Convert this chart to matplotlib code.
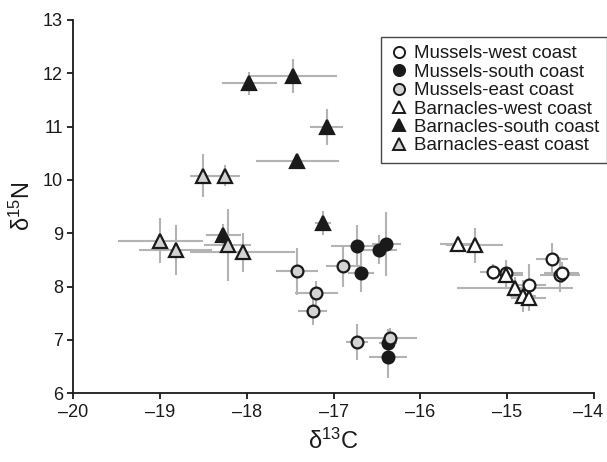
import matplotlib.pyplot as plt
from matplotlib.lines import Line2D
from matplotlib.transforms import ScaledTranslation

plt.rcParams['font.family'] = ['Liberation Sans', 'DejaVu Sans']
plt.rcParams['mathtext.default'] = 'regular'

# Mussels-west coast (open circles)
mw_x = [-15.16, -15.01, -14.75, -14.48, -14.39, -14.37]
mw_y = [8.27, 8.26, 8.02, 8.52, 8.22, 8.26]
mw_xerr = [0.15, 0.2, 0.2, 0.18, 0.23, 0.2]
mw_yerr = [0.15, 0.15, 0.4, 0.3, 0.33, 0.2]

# Mussels-south coast (black circles)
ms_x = [-16.73, -16.68, -16.47, -16.39, -16.37, -16.37]
ms_y = [8.76, 8.26, 8.69, 8.79, 6.95, 6.67]
ms_xerr = [0.3, 0.15, 0.2, 0.17, 0.1, 0.22]
ms_yerr = [0.4, 0.37, 0.27, 0.6, 0.25, 0.38]

# Mussels-east coast (grey circles)
me_x = [-17.42, -17.20, -17.24, -16.89, -16.73, -16.35]
me_y = [8.29, 7.88, 7.54, 8.38, 6.96, 7.03]
me_xerr = [0.24, 0.25, 0.17, 0.2, 0.13, 0.31]
me_yerr = [0.44, 0.22, 0.27, 0.38, 0.33, 0.2]

# Barnacles-west coast (open triangles)
bw_x = [-15.57, -15.37, -15.01, -14.91, -14.82, -14.75]
bw_y = [8.79, 8.77, 8.22, 7.98, 7.83, 7.79]
bw_xerr = [0.2, 0.33, 0.2, 0.67, 0.15, 0.2]
bw_yerr = [0.15, 0.32, 0.27, 0.2, 0.3, 0.25]

# Barnacles-south coast (black triangles)
bs_x = [-17.97, -17.47, -17.08, -17.42, -17.12, -18.27]
bs_y = [11.81, 11.95, 10.99, 10.36, 9.19, 8.97]
bs_xerr = [0.32, 0.51, 0.19, 0.48, 0.09, 0.2]
bs_yerr = [0.22, 0.32, 0.33, 0.1, 0.23, 0.2]

# Barnacles-east coast (grey triangles)
be_x = [-19.0, -18.82, -18.50, -18.25, -18.22, -18.05]
be_y = [8.86, 8.68, 10.08, 10.08, 8.78, 8.64]
be_xerr = [0.49, 0.42, 0.15, 0.17, 0.27, 0.6]
be_yerr = [0.42, 0.47, 0.4, 0.2, 0.67, 0.37]

x_ticks = [-20, -19, -18, -17, -16, -15, -14]
y_ticks = [6, 7, 8, 9, 10, 11, 12, 13]

grey = '#d3d3d3'
err_col = '#b3b3b3'
ink = '#1a1a1a'

series = [
    ('Mussels-west coast', mw_x, mw_y, mw_xerr, mw_yerr, 'o', 'white'),
    ('Mussels-south coast', ms_x, ms_y, ms_xerr, ms_yerr, 'o', ink),
    ('Mussels-east coast', me_x, me_y, me_xerr, me_yerr, 'o', grey),
    ('Barnacles-west coast', bw_x, bw_y, bw_xerr, bw_yerr, '^', 'white'),
    ('Barnacles-south coast', bs_x, bs_y, bs_xerr, bs_yerr, '^', ink),
    ('Barnacles-east coast', be_x, be_y, be_xerr, be_yerr, '^', grey),
]

fig = plt.figure(figsize=(6.07, 4.62), dpi=100)
ax = fig.add_axes([0.121, 0.149, 0.857, 0.808])

# error bars first, behind all markers
for name, x, y, xe, ye, m, fc in series:
    ax.errorbar(x, y, xerr=xe, yerr=ye, fmt='none', ecolor=err_col,
                elinewidth=1.5, capsize=0, zorder=1)

handles = []
for name, x, y, xe, ye, m, fc in series:
    ms = 8.5 if m == 'o' else 9.5
    ax.plot(x, y, linestyle='none', marker=m, markersize=ms,
            markerfacecolor=fc, markeredgecolor=ink,
            markeredgewidth=1.6, zorder=3)
    handles.append(Line2D([], [], linestyle='none', marker=m, markersize=8,
                          markerfacecolor=fc, markeredgecolor=ink,
                          markeredgewidth=1.4, label=name))

ax.set_xlim(-20, -14)
ax.set_ylim(6, 13)
ax.set_xticks(x_ticks)
ax.set_xticklabels(['\u2013' + str(abs(v)) for v in x_ticks])
ax.set_yticks(y_ticks)

ax.spines['top'].set_visible(False)
ax.spines['right'].set_visible(False)
for s in ['left', 'bottom']:
    ax.spines[s].set_linewidth(1.3)
    ax.spines[s].set_color(ink)
ax.tick_params(direction='out', length=4, width=1.3, labelsize=13,
               color=ink, labelcolor=ink)

ax.set_xlabel('\u03b4$^{13}$C', fontsize=17, color=ink, labelpad=6)
ax.set_ylabel('\u03b4$^{15}$N', fontsize=17, color=ink, labelpad=6)

leg = ax.legend(handles=handles, loc='upper left', bbox_to_anchor=(0.591, 0.955),
                fontsize=13.5, frameon=True, fancybox=False, borderpad=0.45,
                labelspacing=0.07, handletextpad=0.3, handlelength=1.0,
                borderaxespad=0)
leg.get_frame().set_edgecolor(ink)
leg.get_frame().set_linewidth(1.0)
leg.set_zorder(5)
for t in leg.get_texts():
    t.set_color(ink)

# pull the last x tick label a little inside the figure edge
last = ax.get_xticklabels()[-1]
last.set_transform(last.get_transform() + ScaledTranslation(-4 / 72, 0, fig.dpi_scale_trans))

fig.savefig('out.png', dpi=100)
